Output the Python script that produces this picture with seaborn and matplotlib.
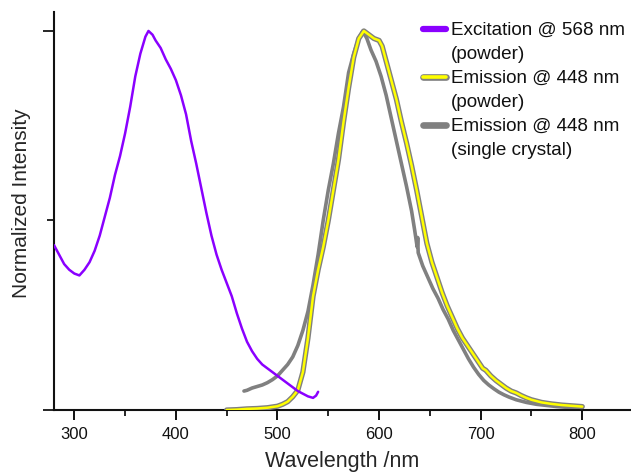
import numpy as np
import pandas as pd
import matplotlib
matplotlib.use("Agg")
import matplotlib.pyplot as plt
import matplotlib.patheffects as pe
from matplotlib.lines import Line2D
from matplotlib.ticker import MultipleLocator, FixedLocator, NullFormatter
import seaborn as sns

# Excitation spectrum (powder), monitored at 568 nm
exc_wl = [280, 285, 290, 295, 300, 305, 310, 315, 320, 325, 330, 335, 340, 345,
          350, 355, 360, 365, 370, 373, 377, 380, 385, 390, 395, 400, 405, 410,
          415, 420, 425, 430, 435, 440, 445, 450, 455, 460, 465, 470, 475, 480,
          485, 490, 495, 500, 505, 510, 515, 520, 525, 530, 535, 538, 540]
exc_int = [0.435, 0.41, 0.385, 0.37, 0.36, 0.355, 0.37, 0.39, 0.42, 0.46, 0.51,
           0.56, 0.62, 0.67, 0.73, 0.80, 0.88, 0.94, 0.985, 1.0, 0.99, 0.975,
           0.955, 0.925, 0.90, 0.87, 0.83, 0.78, 0.71, 0.65, 0.585, 0.52, 0.46,
           0.41, 0.37, 0.335, 0.30, 0.255, 0.215, 0.18, 0.155, 0.135, 0.12,
           0.11, 0.10, 0.09, 0.08, 0.07, 0.06, 0.05, 0.043, 0.036, 0.032,
           0.038, 0.048]

# Emission spectrum (powder), excited at 448 nm
emp_wl = [450, 460, 470, 480, 490, 500, 505, 510, 515, 520, 525, 530, 535, 540,
          545, 550, 555, 560, 565, 570, 575, 580, 585, 590, 595, 600, 603, 607,
          612, 617, 622, 627, 632, 637, 642, 647, 652, 657, 662, 667, 672, 677,
          682, 687, 692, 697, 702, 705, 710, 715, 720, 725, 730, 735, 740, 745,
          750, 760, 770, 780, 790, 800]
emp_int = [0.0, 0.001, 0.003, 0.004, 0.006, 0.01, 0.015, 0.022, 0.035, 0.052,
           0.10, 0.19, 0.30, 0.37, 0.43, 0.50, 0.58, 0.66, 0.76, 0.85, 0.93,
           0.98, 1.0, 0.99, 0.98, 0.975, 0.96, 0.92, 0.87, 0.82, 0.76, 0.705,
           0.645, 0.58, 0.51, 0.44, 0.39, 0.35, 0.31, 0.275, 0.245, 0.215, 0.19,
           0.17, 0.15, 0.13, 0.11, 0.105, 0.09, 0.078, 0.068, 0.058, 0.05,
           0.045, 0.038, 0.032, 0.027, 0.02, 0.016, 0.013, 0.011, 0.009]

# Emission spectrum (single crystal), excited at 448 nm
emc_wl = [467, 470, 475, 480, 485, 490, 495, 500, 505, 510, 515, 520, 525, 530,
          535, 540, 545, 550, 555, 560, 565, 570, 575, 580, 584, 588, 592, 597,
          602, 607, 612, 617, 622, 627, 632, 635, 637.5, 638, 638.5, 643, 648,
          653, 658, 663, 668, 673, 678, 683, 688, 693, 698, 703, 708, 713, 718,
          723, 728, 735, 745, 755, 765, 775, 785, 800]
emc_int = [0.05, 0.052, 0.058, 0.062, 0.066, 0.072, 0.08, 0.09, 0.105, 0.12,
           0.14, 0.17, 0.21, 0.26, 0.33, 0.41, 0.50, 0.58, 0.65, 0.73, 0.80,
           0.89, 0.94, 0.98, 1.0, 0.98, 0.95, 0.92, 0.88, 0.83, 0.77, 0.71,
           0.65, 0.59, 0.525, 0.475, 0.43, 0.455, 0.415, 0.38, 0.35, 0.32,
           0.295, 0.265, 0.24, 0.21, 0.185, 0.16, 0.135, 0.113, 0.094, 0.078,
           0.066, 0.056, 0.047, 0.04, 0.034, 0.027, 0.02, 0.015, 0.012, 0.009,
           0.007, 0.005]

labels = ["Excitation @ 568 nm", "Emission @ 448 nm", "Emission @ 448 nm"]
sublabels = ["(powder)", "(powder)", "(single crystal)"]
x_ticks = [300, 400, 500, 600, 700, 800]

PURPLE = "#8a00ff"
YELLOW = "#ffff00"
GRAY = "#808080"

sns.set_style("ticks")
plt.rcParams["font.family"] = ["Liberation Sans", "DejaVu Sans"]
plt.rcParams["text.color"] = "#111111"

fig = plt.figure(figsize=(6.31, 4.73), dpi=100)
ax = fig.add_axes([54 / 631, 63 / 473, 576 / 631, 398 / 473])

exc = pd.DataFrame({"wl": exc_wl, "I": exc_int})
emp = pd.DataFrame({"wl": emp_wl, "I": emp_int})
emc = pd.DataFrame({"wl": emc_wl, "I": emc_int})

sns.lineplot(data=emc, x="wl", y="I", ax=ax, color=GRAY, lw=2.6,
             sort=False, estimator=None, zorder=2)
sns.lineplot(data=emp, x="wl", y="I", ax=ax, color=YELLOW, lw=1.8,
             sort=False, estimator=None, zorder=3,
             path_effects=[pe.Stroke(linewidth=3.8, foreground=GRAY), pe.Normal()])
sns.lineplot(data=exc, x="wl", y="I", ax=ax, color=PURPLE, lw=1.8,
             sort=False, estimator=None, zorder=4)

ax.set_xlim(280, 847)
ax.set_ylim(0, 1.05)
ax.xaxis.set_major_locator(FixedLocator(x_ticks))
ax.xaxis.set_minor_locator(MultipleLocator(50))
ax.yaxis.set_major_locator(FixedLocator([0, 1.0]))
ax.yaxis.set_minor_locator(FixedLocator([0.5]))
ax.yaxis.set_major_formatter(NullFormatter())
ax.tick_params(axis="x", which="major", length=7, width=1.4, labelsize=12,
               pad=5, colors="#111111")
ax.tick_params(axis="x", which="minor", length=4, width=1.4)
ax.tick_params(axis="y", which="major", length=8, width=1.4)
ax.tick_params(axis="y", which="minor", length=5, width=1.4)

for side in ["top", "right"]:
    ax.spines[side].set_visible(False)
for side in ["left", "bottom"]:
    ax.spines[side].set_linewidth(1.5)
    ax.spines[side].set_color("#111111")

ax.set_xlabel("Wavelength /nm", fontsize=15.5, labelpad=7)
ax.set_ylabel("Normalized Intensity", fontsize=15)
ax.yaxis.set_label_coords(-0.04, 0.52)

# Two-line legend: one entry per spectrum plus its sample-form caption
blank = Line2D([], [], color="none")
h_exc = Line2D([], [], color=PURPLE, lw=4.5)
h_emp = Line2D([], [], color=YELLOW, lw=2.6,
               path_effects=[pe.Stroke(linewidth=4.8, foreground=GRAY), pe.Normal()])
h_emc = Line2D([], [], color=GRAY, lw=4.8)
handles = [h_exc, blank, h_emp, blank, h_emc, blank]
texts = [labels[0], sublabels[0], labels[1], sublabels[1], labels[2], sublabels[2]]
ax.legend(handles, texts, loc="upper left", bbox_to_anchor=(423 / 631, 1 - 22 / 473),
          bbox_transform=fig.transFigure, frameon=False, fontsize=13.6,
          handlelength=1.2, handletextpad=0.3, labelspacing=0.36, borderpad=0,
          borderaxespad=0)

fig.savefig("out.png", dpi=100)
